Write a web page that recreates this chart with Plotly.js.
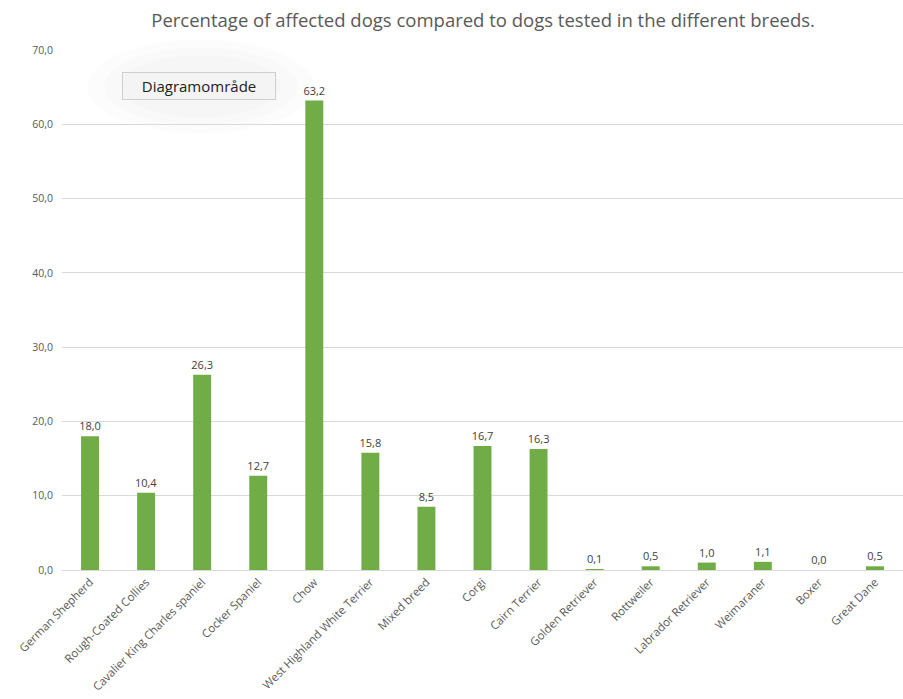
<!DOCTYPE html>
<html>
<head>
<meta charset="utf-8">
<script src="https://cdn.plot.ly/plotly-3.0.1.min.js"></script>
<style>html,body{margin:0;padding:0;background:#fff;}#chart{width:903px;height:699px;}</style>
</head>
<body>
<div id="chart"></div>
<script>
const breeds = ["German Shepherd","Rough-Coated Collies","Cavalier King Charles spaniel","Cocker Spaniel","Chow","West Highland White Terrier","Mixed breed","Corgi","Cairn Terrier","Golden Retriever","Rottweiler","Labrador Retriever","Weimaraner","Boxer","Great Dane"];
const percentAffected = [18.0,10.4,26.3,12.7,63.2,15.8,8.5,16.7,16.3,0.1,0.5,1.0,1.1,0.0,0.5];
const yTicks = [0,10,20,30,40,50,60,70];

const trace = {
  type: "bar",
  x: breeds,
  y: percentAffected,
  marker: {color: "#70AD47"},
  texttemplate: "%{y:.1f}",
  textposition: "outside",
  constraintext: "none",
  cliponaxis: false,
  textfont: {family: "Open Sans", size: 11, color: "#404040"},
  hoverinfo: "x+y"
};

const layout = {
  width: 903, height: 699,
  separators: ",.",
  paper_bgcolor: "#fff", plot_bgcolor: "#fff",
  margin: {l: 62, r: 0, t: 50, b: 129},
  bargap: 0.68,
  showlegend: false,
  font: {family: "Open Sans", color: "#595959"},
  title: {text: "Percentage of affected dogs compared to dogs tested in the different breeds.", font: {family: "Open Sans", size: 18.5, color: "#595959"}, x: 0.535, xanchor: "center", y: 0.97, yanchor: "middle"},
  xaxis: {tickangle: -45, tickfont: {size: 11.5, color: "#595959"}, showgrid: false, showline: true, linecolor: "#d9d9d9", ticks: "", automargin: false},
  yaxis: {range: [0,70], tickvals: yTicks, tickformat: ".1f", tickfont: {size: 10.5, color: "#595959"}, gridcolor: "#d9d9d9", zeroline: false, showline: false, ticks: "", ticklen: 0, automargin: false, ticklabelstandoff: 8},
  shapes: [
    {type: "circle", xref: "paper", yref: "paper", x0: 0.03, x1: 0.3, y0: 0.84, y1: 1.02, fillcolor: "rgba(0,0,0,0.012)", line: {width: 0}, layer: "below"},
    {type: "circle", xref: "paper", yref: "paper", x0: 0.05, x1: 0.28, y0: 0.855, y1: 1.005, fillcolor: "rgba(0,0,0,0.012)", line: {width: 0}, layer: "below"},
    {type: "circle", xref: "paper", yref: "paper", x0: 0.07, x1: 0.26, y0: 0.87, y1: 0.99, fillcolor: "rgba(0,0,0,0.012)", line: {width: 0}, layer: "below"}
  ],
  annotations: [
    {text: "Diagramområde", xref: "paper", yref: "paper", x: 0.163, y: 0.931, xanchor: "center", yanchor: "middle", showarrow: false, width: 148, height: 22, align: "center", font: {family: "Open Sans", size: 15, color: "#222"}, bgcolor: "#f4f4f4", bordercolor: "#cfcfcf", borderwidth: 1, borderpad: 2}
  ]
};

Plotly.newPlot("chart", [trace], layout, {displayModeBar: false, responsive: false});
</script>
</body>
</html>
